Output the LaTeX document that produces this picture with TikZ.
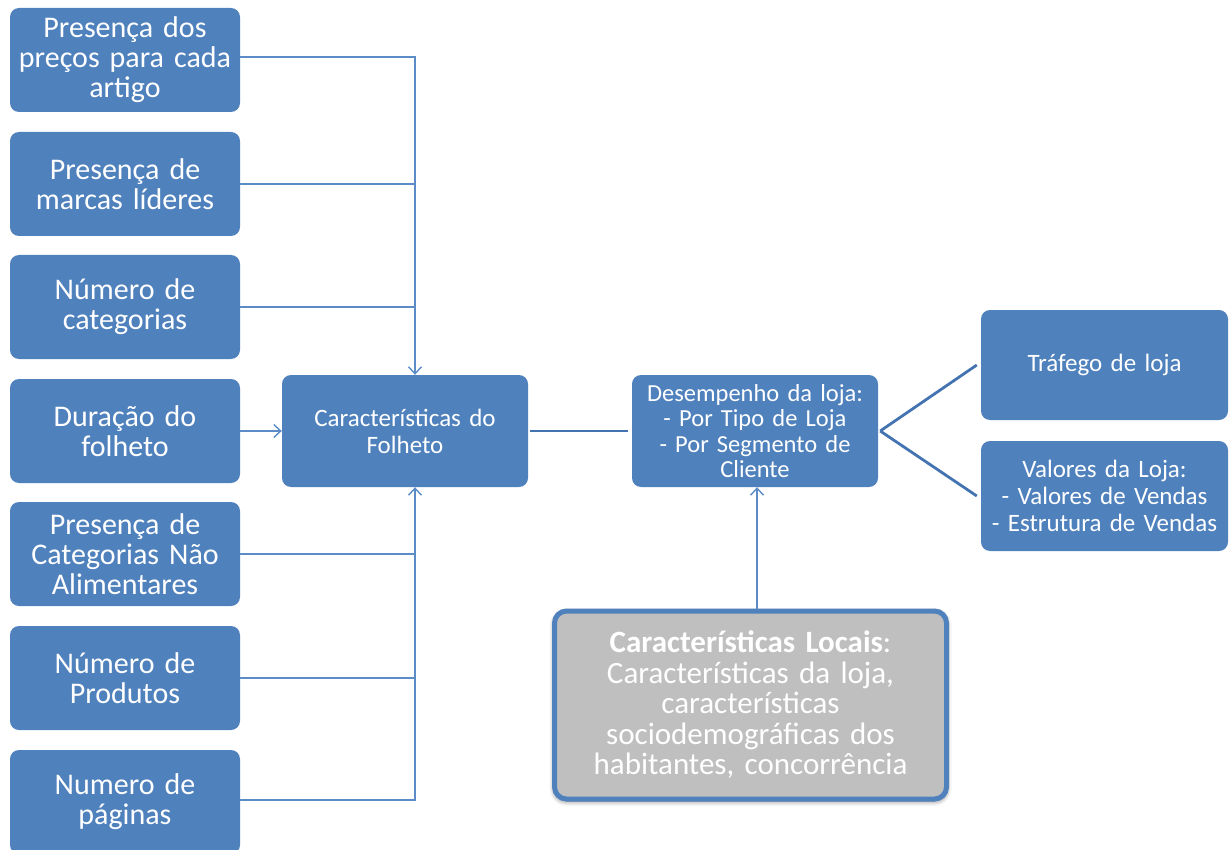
\documentclass[tikz,border=0pt]{standalone}
\usepackage{fontspec}
\setmainfont{Carlito}
\usetikzlibrary{arrows.meta,shadows.blur}
\definecolor{boxblue}{HTML}{4F81BD}
\definecolor{lineblue}{HTML}{5B8CC8}
\definecolor{darkline}{HTML}{4373B0}
\definecolor{localgray}{HTML}{BFBFBF}
\begin{document}
\begin{tikzpicture}[x=1pt,y=-1pt,
  box/.style={rectangle,rounded corners=9pt,fill=boxblue,text=white,
    inner sep=0pt,align=center},
  lbox/.style={box,minimum width=230pt,minimum height=104pt,text width=228pt,
    font=\fontsize{30}{30}\selectfont},
  mbox/.style={box,minimum width=246pt,minimum height=112pt,text width=244pt,
    font=\fontsize{25}{27}\selectfont},
  rbox/.style={box,minimum width=247pt,minimum height=110pt,text width=244pt,
    font=\fontsize{25}{27}\selectfont},
  feed/.style={draw=lineblue,line width=1.4pt},
  tip/.style={-{Straight Barb[length=7pt,width=13pt,line width=1.4pt]}},
  link/.style={draw=darkline,line width=2.8pt}]
\useasboundingbox (0,0) rectangle (1231,850);

% input factors
\node[lbox] (b1) at (125,60)  {Presença dos\\preços para cada\\artigo};
\node[lbox] (b2) at (125,184) {Presença de\\marcas líderes};
\node[lbox] (b3) at (125,307) {Número de\\categorias};
\node[lbox] (b4) at (125,431) {Duração do\\folheto};
\node[lbox] (b5) at (125,554) {Presença de\\Categorias Não\\Alimentares};
\node[lbox] (b6) at (125,678) {Número de\\Produtos};
\node[lbox] (b7) at (125,802) {Numero de\\páginas};

% central chain
\node[mbox] (fol) at (405,431) {Características do\\Folheto};
\node[mbox,font=\fontsize{24.5}{25.5}\selectfont] (des) at (755,431)
  {Desempenho da loja:\\- Por Tipo de Loja\\- Por Segmento de\\Cliente};
\node[rbox] (traf) at (1104.5,365) {Tráfego de loja};
\node[rbox] (val) at (1104.5,496) {Valores da Loja:\\- Valores de Vendas\\- Estrutura de Vendas};

% local characteristics
\node[rectangle,rounded corners=12pt,fill=localgray,draw=boxblue,line width=5pt,
  minimum width=392pt,minimum height=188pt,text width=388pt,align=center,
  text=white,inner sep=0pt,font=\fontsize{31}{30.5}\selectfont,
  blur shadow={shadow xshift=0pt,shadow yshift=-2pt,shadow blur radius=5pt,shadow opacity=60}]
  (loc) at (750.5,705)
  {\textbf{Características Locais}:\\Características da loja,\\características\\sociodemográficas dos\\habitantes, concorrência};

% bus feeding the leaflet box
\coordinate (bus) at (415,431);
\draw[feed,tip] (b1.east |- 0,57) -| (fol.north -| bus);
\draw[feed] (b2.east) -- (b2.east -| bus);
\draw[feed] (b3.east) -- (b3.east -| bus);
\draw[feed,tip] (b4.east) -- (fol.west);
\draw[feed] (b5.east) -- (b5.east -| bus);
\draw[feed] (b6.east) -- (b6.east -| bus);
\draw[feed,tip] (b7.east |- 0,800) -| (fol.south -| bus);

% outcome links
\draw[link] ([xshift=2pt]fol.east) -- ([xshift=-4pt]des.west);
\draw[link] ([xshift=2pt]des.east) -- ([xshift=-4pt]traf.west);
\draw[link] ([xshift=2pt]des.east) -- ([xshift=-4pt]val.west);
\draw[feed,tip] (loc.north -| 757,0) -- (des.south -| 757,0);
\end{tikzpicture}
\end{document}
